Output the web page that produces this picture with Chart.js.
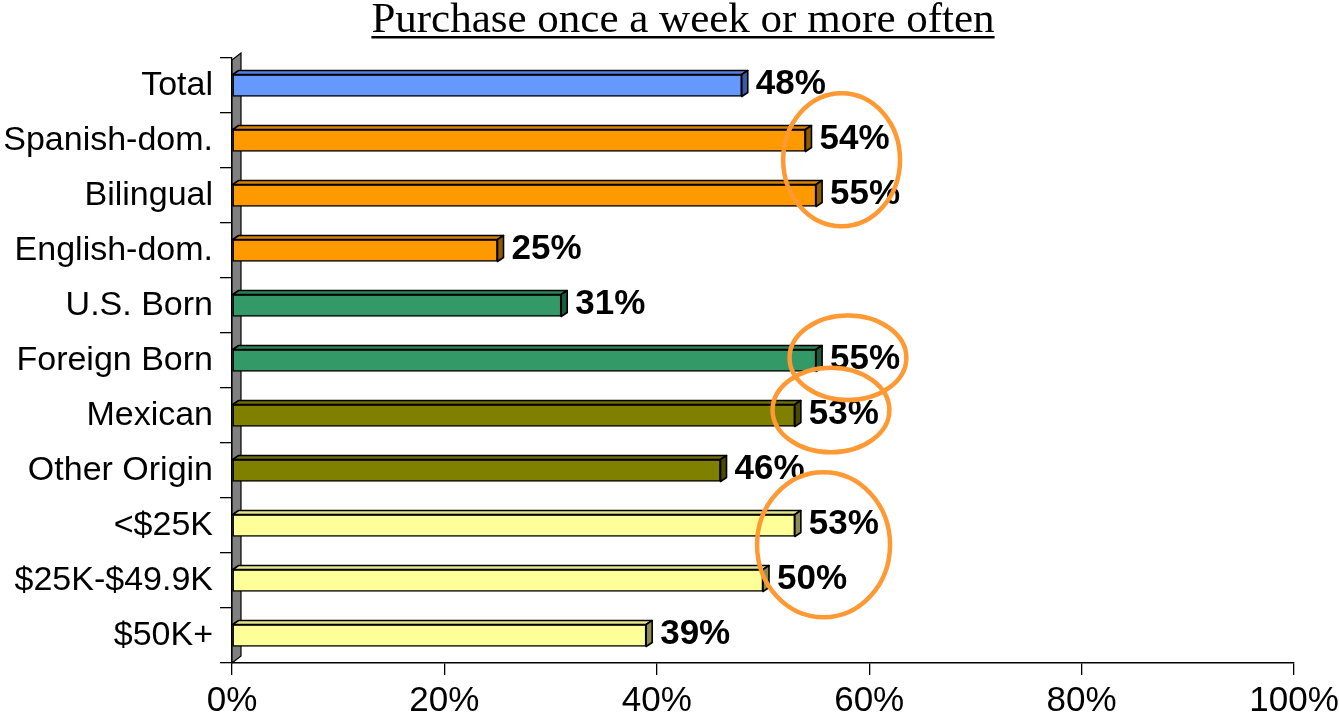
<!DOCTYPE html>
<html>
<head>
<meta charset="utf-8">
<script src="https://cdn.jsdelivr.net/npm/chart.js@4.4.1/dist/chart.umd.min.js"></script>
<style>
  html, body { margin: 0; padding: 0; background: #fff; }
  #wrap { position: relative; width: 1339px; height: 722px; }
</style>
</head>
<body>
<div id="wrap"><canvas id="chart" width="1339" height="722"></canvas></div>
<script>
  const title = "Purchase once a week or more often";

  const categories = [
    "Total", "Spanish-dom.", "Bilingual", "English-dom.", "U.S. Born",
    "Foreign Born", "Mexican", "Other Origin", "<$25K", "$25K-$49.9K", "$50K+"
  ];
  const values = [48, 54, 55, 25, 31, 55, 53, 46, 53, 50, 39];
  const groups = ["total", "lang", "lang", "lang", "birth", "birth", "origin", "origin", "income", "income", "income"];
  const xTicks = [0, 20, 40, 60, 80, 100];

  // highlighted rings: centre in % / category index, radii in % / categories
  const ringX = [57.4, 58.0, 56.4, 55.7];
  const ringY = [1.35, 4.95, 5.9, 8.35];
  const ringRX = [5.5, 5.5, 5.5, 6.26];
  const ringRY = [1.21, 0.77, 0.77, 1.32];

  const palette = {
    total:  { front: "#6699ff", top: "#5580e0", side: "#3a5aa8" },
    lang:   { front: "#ff9900", top: "#d98200", side: "#8f5a00" },
    birth:  { front: "#339966", top: "#2b8256", side: "#1d5a3b" },
    origin: { front: "#808000", top: "#6c6c00", side: "#4a4a00" },
    income: { front: "#ffff99", top: "#e6e68a", side: "#8c8c55" }
  };

  const FONT = "'Liberation Sans', Arial, sans-serif";
  const DX = 6, DY = 4;

  const depthPlugin = {
    id: "depth",
    beforeDatasetsDraw(chart) {
      const { ctx, chartArea } = chart;
      const l = chartArea.left, t = chartArea.top, b = chartArea.bottom;
      ctx.save();
      ctx.beginPath();
      ctx.moveTo(l, t + 2);
      ctx.lineTo(l + 9, t - 5);
      ctx.lineTo(l + 9, b - 7);
      ctx.lineTo(l, b);
      ctx.closePath();
      ctx.fillStyle = "#808080";
      ctx.fill();
      ctx.lineWidth = 1.2;
      ctx.strokeStyle = "#000";
      ctx.stroke();
      ctx.restore();
    },
    afterDatasetsDraw(chart) {
      const { ctx } = chart;
      const meta = chart.getDatasetMeta(0);
      ctx.save();
      ctx.lineWidth = 1.6;
      ctx.lineJoin = "round";
      ctx.strokeStyle = "#000";
      meta.data.forEach((bar, i) => {
        const p = palette[groups[i]];
        const top = bar.y - bar.height / 2;
        const bottom = bar.y + bar.height / 2;
        ctx.beginPath();
        ctx.moveTo(bar.base, top);
        ctx.lineTo(bar.base + DX, top - DY);
        ctx.lineTo(bar.x + DX, top - DY);
        ctx.lineTo(bar.x, top);
        ctx.closePath();
        ctx.fillStyle = p.top;
        ctx.fill();
        ctx.stroke();
        ctx.beginPath();
        ctx.moveTo(bar.x, top);
        ctx.lineTo(bar.x + DX, top - DY);
        ctx.lineTo(bar.x + DX, bottom - DY);
        ctx.lineTo(bar.x, bottom);
        ctx.closePath();
        ctx.fillStyle = p.side;
        ctx.fill();
        ctx.stroke();

        ctx.fillStyle = "#000";
        ctx.font = "bold 35px " + FONT;
        ctx.textAlign = "left";
        ctx.textBaseline = "middle";
        ctx.fillText(values[i] + "%", bar.x + 14, bar.y - 1);
      });
      ctx.restore();
    },
    afterDraw(chart) {
      const { ctx } = chart;
      const xs = chart.scales.x, ys = chart.scales.y;
      ctx.save();
      ctx.strokeStyle = "#ff9933";
      ctx.lineWidth = 4.5;
      ringX.forEach((v, i) => {
        const cx = xs.getPixelForValue(v);
        const cy = ys.getPixelForValue(ringY[i]);
        const rx = xs.getPixelForValue(v + ringRX[i]) - cx;
        const ry = ys.getPixelForValue(ringY[i] + ringRY[i]) - cy;
        ctx.beginPath();
        ctx.ellipse(cx, cy, rx, ry, 0, 0, Math.PI * 2);
        ctx.stroke();
      });

      ctx.fillStyle = "#000";
      ctx.font = "43px 'Liberation Serif', 'Times New Roman', serif";
      ctx.textAlign = "center";
      ctx.textBaseline = "alphabetic";
      const tx = 683, ty = 32;
      ctx.fillText(title, tx, ty);
      const w = ctx.measureText(title).width;
      ctx.fillRect(tx - w / 2, ty + 4, w, 2.5);
      ctx.restore();
    }
  };

  new Chart(document.getElementById("chart"), {
    type: "bar",
    data: {
      labels: categories,
      datasets: [{
        data: values,
        backgroundColor: groups.map((g) => palette[g].front),
        borderColor: "#000",
        borderWidth: 1.6,
        borderSkipped: false,
        barThickness: 22
      }]
    },
    options: {
      indexAxis: "y",
      responsive: false,
      animation: false,
      layout: { padding: { top: 58, right: 45, left: 0, bottom: 0 } },
      plugins: {
        legend: { display: false },
        tooltip: { enabled: false },
        title: { display: false }
      },
      scales: {
        x: {
          min: 0,
          max: 100,
          afterFit: (scale) => {
            scale.height = 59;
            scale.paddingLeft = 0;
            scale.paddingRight = 0;
          },
          afterBuildTicks: (scale) => { scale.ticks = xTicks.map((v) => ({ value: v })); },
          ticks: {
            color: "#000",
            padding: 5,
            font: { family: FONT, size: 35 },
            callback: (v) => v + "%",
            maxRotation: 0
          },
          grid: { drawOnChartArea: false, tickLength: 12, color: "#000", lineWidth: 1.3 },
          border: { display: true, color: "#000", width: 1.6 }
        },
        y: {
          afterFit: (scale) => { scale.width = 232; },
          ticks: {
            color: "#000",
            padding: 7,
            font: { family: FONT, size: 34 }
          },
          grid: { drawOnChartArea: false, tickLength: 12, color: "#000", lineWidth: 1.3, offset: true },
          border: { display: true, color: "#000", width: 1.3 }
        }
      }
    },
    plugins: [depthPlugin]
  });
</script>
</body>
</html>
